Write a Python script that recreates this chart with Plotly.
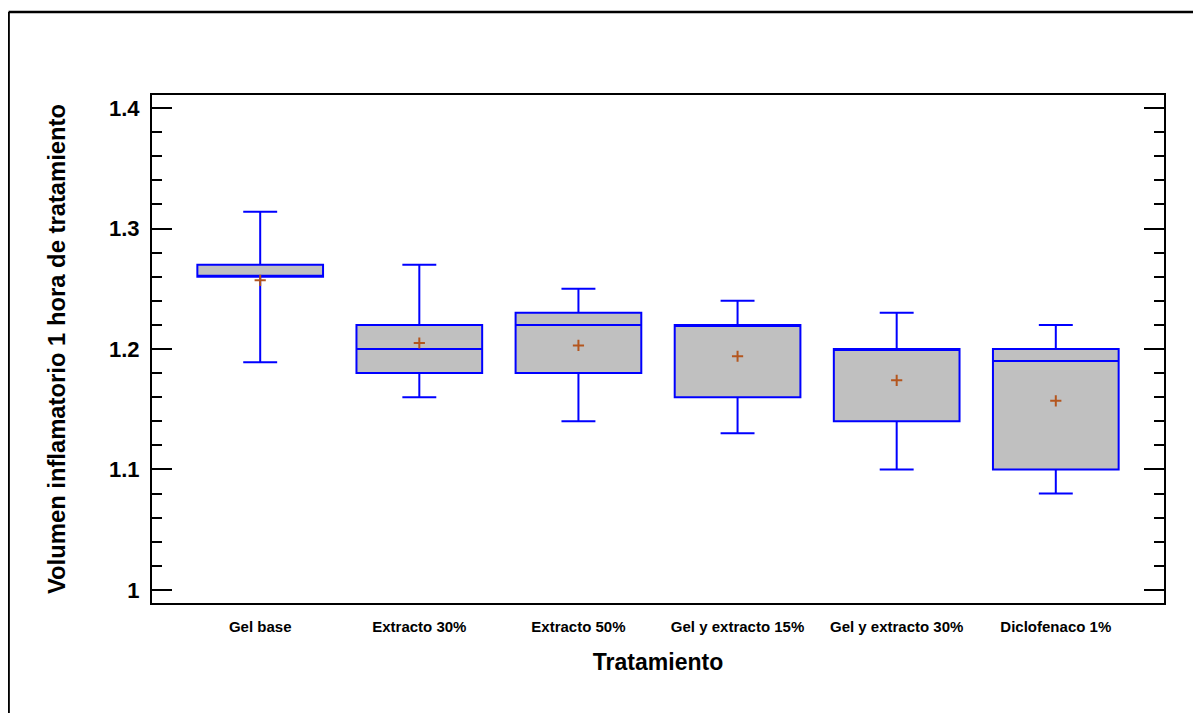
import plotly.graph_objects as go

categories = ["Gel base", "Extracto 30%", "Extracto 50%", "Gel y extracto 15%", "Gel y extracto 30%", "Diclofenaco 1%"]
lower_whisker = [1.189, 1.16, 1.14, 1.13, 1.10, 1.08]
q1_values = [1.26, 1.18, 1.18, 1.16, 1.14, 1.10]
median_values = [1.26, 1.20, 1.22, 1.22, 1.20, 1.19]
q3_values = [1.27, 1.22, 1.23, 1.22, 1.20, 1.20]
upper_whisker = [1.314, 1.27, 1.25, 1.24, 1.23, 1.22]
mean_values = [1.257, 1.205, 1.203, 1.194, 1.174, 1.157]
y_tick_vals = [1.0, 1.1, 1.2, 1.3, 1.4]
y_tick_text = ["1", "1.1", "1.2", "1.3", "1.4"]

# page body has an 8px default margin: figure is offset by (8, 8)
OFF = 8
W, H = 1201 - OFF, 713 - OFF
ML, MR, MT, MB = 152 - OFF, 37, 95 - OFF, 110

fig = go.Figure()
fig.add_trace(go.Box(
    x=categories,
    q1=q1_values, median=median_values, q3=q3_values,
    lowerfence=lower_whisker, upperfence=upper_whisker,
    fillcolor="#C0C0C0",
    line=dict(color="#0000FF", width=2),
    whiskerwidth=0.27,
    width=0.79,
    boxpoints=False,
    showlegend=False,
    hoverinfo="skip",
))
fig.add_trace(go.Scatter(
    x=categories, y=mean_values, mode="markers",
    marker=dict(symbol="cross-thin", size=8, line=dict(color="#B4561E", width=2), color="#B4561E"),
    showlegend=False, hoverinfo="skip",
))

pw = W - ML - MR
ph = H - MT - MB
x0p = (0.6 - ML) / pw
y0p = (H - MB - (12 - OFF)) / ph
fig.add_shape(type="line", xref="paper", yref="paper", x0=x0p, x1=(W + 5 - ML) / pw, y0=y0p, y1=y0p,
              line=dict(color="black", width=2.5))
fig.add_shape(type="line", xref="paper", yref="paper", x0=x0p, x1=x0p, y0=y0p, y1=-(MB + 10) / ph,
              line=dict(color="black", width=2.5))

fig.update_layout(
    width=W, height=H,
    margin=dict(l=ML, r=MR, t=MT, b=MB),
    plot_bgcolor="white", paper_bgcolor="white",
    font=dict(family="Liberation Sans, Arial", color="black"),
    xaxis=dict(
        type="category",
        range=[-0.68, 5.68],
        showline=True, linecolor="black", linewidth=2, mirror=True,
        showgrid=False, zeroline=False, ticks="",
        tickfont=dict(size=15, weight="bold"),
        ticklabelstandoff=9,
        title=dict(text="Tratamiento", font=dict(size=23, weight="bold"), standoff=20),
    ),
    yaxis=dict(
        range=[0.9892, 1.4108],
        tickvals=y_tick_vals, ticktext=y_tick_text,
        ticks="inside", ticklen=20, tickwidth=2, tickcolor="black",
        minor=dict(dtick=0.02, ticks="inside", ticklen=10, tickwidth=2, tickcolor="black", showgrid=False),
        showline=True, linecolor="black", linewidth=2, mirror="ticks",
        showgrid=False, zeroline=False,
        tickfont=dict(size=22, weight="bold"),
        ticklabelstandoff=6,
        title=dict(text="Volumen inflamatorio 1 hora de tratamiento", font=dict(size=23.8, weight="bold"), standoff=37),
    ),
)

fig.write_html("out.html")
